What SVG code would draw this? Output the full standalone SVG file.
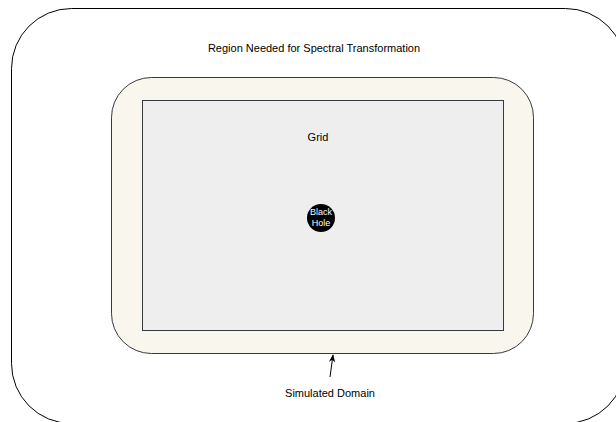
<svg xmlns="http://www.w3.org/2000/svg" width="616" height="422" viewBox="0 0 616 422">
<defs>
<style>
text{font-family:"Liberation Sans",Arial,Helvetica,sans-serif;font-size:11px;fill:#000;text-anchor:middle}
.shape{stroke:#36393d;stroke-width:1}
.bh{fill:#fff;font-size:9px}
</style>
<marker id="arr" viewBox="0 0 10 10" refX="9" refY="5" markerWidth="8" markerHeight="8" markerUnits="userSpaceOnUse" orient="auto">
<path d="M0,1 L10,5 L0,9 L3,5 Z" fill="#000"/>
</marker>
</defs>
<rect width="616" height="422" fill="#fff"/>
<g id="region">
<rect x="11.5" y="8.5" width="614" height="415" rx="60" ry="60" fill="#fff" stroke="#000" stroke-width="1"/>
<text x="314" y="52">Region Needed for Spectral Transformation</text>
</g>
<g id="simulated-domain">
<rect class="shape" x="111.5" y="77.5" width="422" height="276" rx="40" ry="40" fill="#f9f7ed"/>
</g>
<g id="grid">
<rect class="shape" x="142.5" y="100.5" width="361" height="230" fill="#eeeeee"/>
<text x="318" y="141">Grid</text>
</g>
<g id="black-hole">
<circle cx="321" cy="218" r="14" fill="#000"/>
<text class="bh" x="321" y="215">Black</text>
<text class="bh" x="321" y="226">Hole</text>
</g>
<g id="connectors">
<line x1="330" y1="377" x2="333" y2="355" stroke="#000" stroke-width="1" marker-end="url(#arr)"/>
</g>
<g id="label">
<text x="330" y="397">Simulated Domain</text>
</g>
</svg>
